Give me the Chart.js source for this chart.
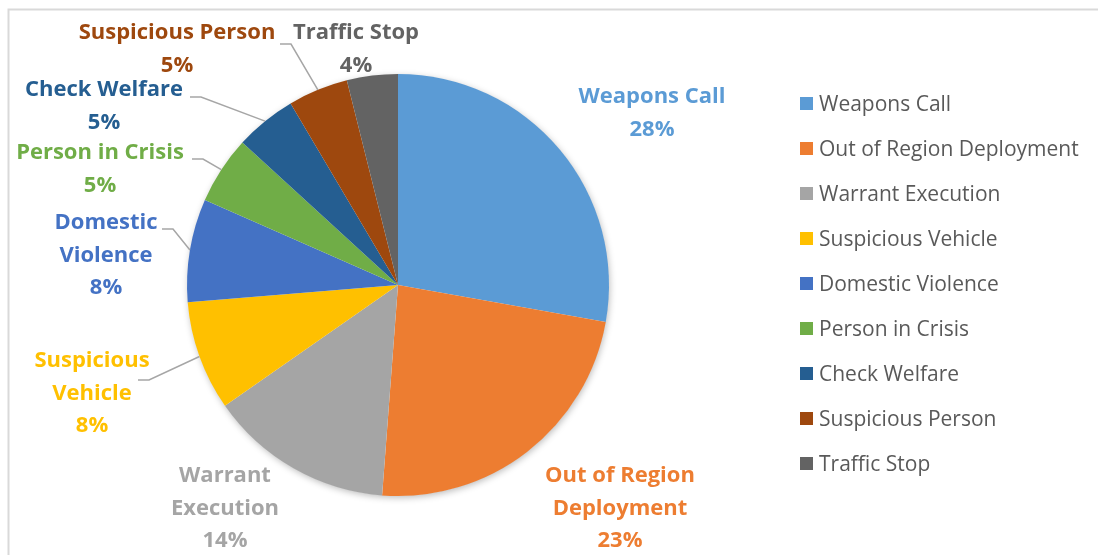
<!DOCTYPE html>
<html>
<head>
<meta charset="utf-8">
<script src="https://cdn.jsdelivr.net/npm/chart.js@4.4.1/dist/chart.umd.min.js"></script>
<style>
  html, body { margin: 0; padding: 0; background: #ffffff; }
  #callsChart { display: block; }
</style>
</head>
<body>
<canvas id="callsChart" width="1098" height="555"></canvas>
<script>
// call types and their share of all calls (percent)
var categories = ['Weapons Call', 'Out of Region Deployment', 'Warrant Execution', 'Suspicious Vehicle',
    'Domestic Violence', 'Person in Crisis', 'Check Welfare', 'Suspicious Person', 'Traffic Stop'];
var shares = [27.8, 23.4, 14.1, 8.4, 7.9, 5.2, 4.7, 4.6, 3.9];

// text of the data labels (line breaks as in the picture)
var labelLines = [
    ['Weapons Call'],
    ['Out of Region', 'Deployment'],
    ['Warrant', 'Execution'],
    ['Suspicious', 'Vehicle'],
    ['Domestic', 'Violence'],
    ['Person in Crisis'],
    ['Check Welfare'],
    ['Suspicious Person'],
    ['Traffic Stop']
];

var sliceColors = ['#5B9BD5', '#ED7D31', '#A5A5A5', '#FFC000', '#4472C4', '#70AD47', '#255E91', '#9E480E', '#636363'];

// label placement relative to the pie centre (px): text centre x, first line y, leader start (or null)
var labelPlace = [
    { dx: 254, dy: -188, lead: null },
    { dx: 222, dy: 191, lead: null },
    { dx: -173, dy: 191, lead: null },
    { dx: -306, dy: 76, lead: [-260, 95] },
    { dx: -292, dy: -62, lead: [-236, -56] },
    { dx: -298, dy: -132, lead: [-206, -126] },
    { dx: -294, dy: -195, lead: [-208, -188] },
    { dx: -221, dy: -252, lead: [-118, -241] },
    { dx: -42, dy: -252, lead: null }
];

var FONT = '"Open Sans", "Noto Sans", sans-serif';

// grey frame round the chart, and the soft shadow under the pie
var framePlugin = {
    id: 'frame',
    beforeDraw: function (chart) {
        var c = chart.ctx;
        c.save();
        c.fillStyle = '#ffffff';
        c.fillRect(0, 0, chart.width, chart.height);
        c.strokeStyle = '#D9D9D9';
        c.lineWidth = 2;
        c.strokeRect(8.5, 9.5, chart.width + 20, chart.height + 20);
        c.restore();
    },
    beforeDatasetsDraw: function (chart) {
        var arc = chart.getDatasetMeta(0).data[0];
        var c = chart.ctx;
        c.save();
        c.shadowColor = 'rgba(0,0,0,0.28)';
        c.shadowBlur = 7;
        c.shadowOffsetX = 1;
        c.shadowOffsetY = 2;
        c.fillStyle = '#ffffff';
        c.beginPath();
        c.arc(arc.x, arc.y, arc.outerRadius - 0.5, 0, Math.PI * 2);
        c.fill();
        c.restore();
    }
};

// data labels with leader lines
var labelPlugin = {
    id: 'sliceLabels',
    afterDatasetsDraw: function (chart) {
        var c = chart.ctx;
        var arcs = chart.getDatasetMeta(0).data;
        c.save();
        arcs.forEach(function (arc, i) {
            var p = labelPlace[i];
            var cx = arc.x, cy = arc.y;
            if (p.lead) {
                var mid = (arc.startAngle + arc.endAngle) / 2;
                var ex = cx + Math.cos(mid) * arc.outerRadius;
                var ey = cy + Math.sin(mid) * arc.outerRadius;
                var sx = cx + p.lead[0], sy = cy + p.lead[1];
                c.strokeStyle = '#A6A6A6';
                c.lineWidth = 1.5;
                c.beginPath();
                c.moveTo(sx, sy);
                c.lineTo(sx + 11, sy);
                c.lineTo(ex, ey);
                c.stroke();
            }
            var lines = labelLines[i].concat([Math.round(shares[i]) + '%']);
            c.fillStyle = sliceColors[i];
            c.font = 'bold 22px ' + FONT;
            c.textAlign = 'center';
            c.textBaseline = 'middle';
            lines.forEach(function (t, k) {
                c.fillText(t, cx + p.dx, cy + p.dy + k * 32.5);
            });
        });
        c.restore();
    }
};

// legend on the right, drawn from the chart's own labels and colours
var legendPlugin = {
    id: 'sideLegend',
    afterDraw: function (chart) {
        var c = chart.ctx;
        var labels = chart.data.labels;
        var colors = chart.data.datasets[0].backgroundColor;
        c.save();
        c.font = '21px ' + FONT;
        c.textAlign = 'left';
        c.textBaseline = 'middle';
        labels.forEach(function (name, i) {
            var y = 103.5 + i * 45;
            c.fillStyle = colors[i];
            c.fillRect(800, y - 6.5, 13, 13);
            c.fillStyle = '#595959';
            c.fillText(name, 819, y + 1.5);
        });
        c.restore();
    }
};

var ctx = document.getElementById('callsChart');

var callsChart = new Chart(ctx, {
    type: 'pie',
    data: {
        labels: categories,
        datasets: [{
            data: shares,
            backgroundColor: sliceColors,
            borderWidth: 0
        }]
    },
    options: {
        responsive: false,
        animation: false,
        layout: {
            padding: { left: 187, right: 489, top: 74, bottom: 59 }
        },
        plugins: {
            legend: { display: false },
            tooltip: { enabled: false }
        }
    },
    plugins: [framePlugin, labelPlugin, legendPlugin]
});
</script>
</body>
</html>
